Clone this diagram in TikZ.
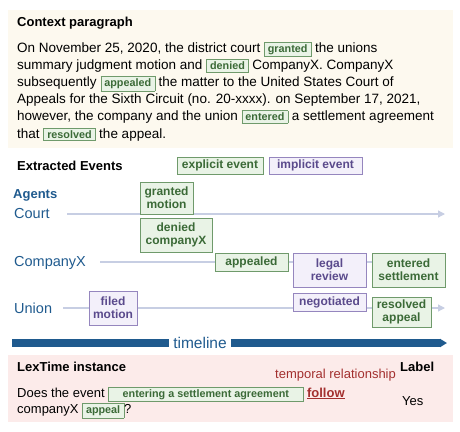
\documentclass[tikz,border=0pt]{standalone}
\usepackage{fontspec}
\setmainfont{Liberation Sans}
\usepackage{xcolor}
\usetikzlibrary{arrows.meta,positioning,calc}

\definecolor{ctxbg}{HTML}{FDF9EF}
\definecolor{lexbg}{HTML}{FCEBEA}
\definecolor{evgreenfill}{HTML}{E9F3E6}
\definecolor{evgreenline}{HTML}{6F9A6B}
\definecolor{evgreentext}{HTML}{3B6A37}
\definecolor{evpurplefill}{HTML}{F3F0FA}
\definecolor{evpurpleline}{HTML}{9586BE}
\definecolor{evpurpletext}{HTML}{5A4A8C}
\definecolor{agentblue}{HTML}{1F5A8E}
\definecolor{agentline}{HTML}{C7CEE3}
\definecolor{relred}{HTML}{A3302F}

% event marked inside running text
\newcommand{\parev}[1]{{\setlength{\fboxsep}{2.2pt}\fcolorbox{evgreenline}{evgreenfill}{\hspace{1.2pt}\textcolor{evgreentext}{\fontsize{10.8}{12}\selectfont\bfseries #1}\hspace{1.2pt}}}}
\newcommand{\parevwide}[2]{{\setlength{\fboxsep}{2.2pt}\fcolorbox{evgreenline}{evgreenfill}{\makebox[#1]{\textcolor{evgreentext}{\fontsize{10.8}{12}\selectfont\bfseries #2}}}}}

\begin{document}
\begin{tikzpicture}[
      x=1pt, y=-1pt,
      every node/.style={inner sep=0pt},
      head/.style={font=\fontsize{13}{15}\selectfont\bfseries, anchor=base west},
      agent/.style={font=\fontsize{14.5}{16}\selectfont, text=agentblue, anchor=base west},
      evbox/.style={draw, line width=0.8pt, align=center, inner sep=2pt,
                    font=\fontsize{12}{13}\selectfont\bfseries},
      expl/.style={evbox, fill=evgreenfill, draw=evgreenline, text=evgreentext},
      impl/.style={evbox, fill=evpurplefill, draw=evpurpleline, text=evpurpletext},
      aline/.style={draw=agentline, line width=1.3pt, -{Triangle[length=7pt,width=7pt]}},
      tbar/.style={draw=agentblue, line width=8pt}
  ]
    \useasboundingbox (0,0) rectangle (460,431);

    % context paragraph
    \fill[ctxbg] (8,10) rectangle (453,148);
    \node[head] (ctxhead) at (17,27) {Context paragraph};
    \node[anchor=base west, align=left, font=\fontsize{13.5}{17.2}\selectfont] (ctxtext) at (17,138)
      {On November 25, 2020, the district court \parev{granted} the unions\\
       summary judgment motion and \parev{denied} CompanyX. CompanyX\\
       subsequently \parev{appealed} the matter to the United States Court of\\
       Appeals for the Sixth Circuit (no. 20-xxxx). on September 17, 2021,\\
       however, the company and the union \parev{entered} a settlement agreement\\
       that \parev{resolved} the appeal.};

    % extracted events
    \node[head] (evhead) at (17,170.5) {Extracted Events};
    \node[expl, minimum width=86, minimum height=17] (legexpl) at (220,165.5) {explicit event};
    \node[impl, minimum width=93, minimum height=17] (legimpl) at (315.5,165.5) {implicit event};

    \node[head, text=agentblue] (agents) at (13,198.5) {Agents};
    \node[agent] (court) at (14,218.3) {Court};
    \node[agent] (companyx) at (14,266.5) {CompanyX};
    \node[agent] (union) at (14,313) {Union};

    \coordinate (courtst) at (67,214);   \coordinate (courtend) at (445,214);
    \coordinate (compst) at (100,262);   \coordinate (compend) at (445,262);
    \coordinate (unionst) at (63,308);   \coordinate (unionend) at (445,308);
    \draw[aline] (courtst) -- (courtend);
    \draw[aline] (compst) -- (compend);
    \draw[aline] (unionst) -- (unionend);

    \node[expl, minimum width=53, minimum height=32] (granted) at (166.5,198) {granted\\motion};
    \node[expl, minimum width=72, minimum height=34] (denied) at (176,235) {denied\\companyX};
    \node[expl, minimum width=73, minimum height=18] (appealed) at (251.5,262) {appealed};
    \node[impl, minimum width=73, minimum height=34] (review) at (329.5,270) {legal\\review};
    \node[expl, minimum width=73, minimum height=34] (entered) at (408.5,270) {entered\\settlement};
    \node[impl, minimum width=48, minimum height=34] (filed) at (113,308) {filed\\motion};
    \node[impl, minimum width=73, minimum height=18] (negotiated) at (329.5,302) {negotiated};
    \node[expl, minimum width=59, minimum height=30] (resolved) at (401.5,312) {resolved\\appeal};

    % timeline bar
    \node[font=\fontsize{15.5}{17}\selectfont, text=agentblue, inner xsep=4pt, anchor=base] (tl) at (200,348) {timeline};
    \coordinate (tlst) at (12,343);
    \coordinate (tlend) at (447,343);
    \draw[tbar] (tlst) -- (tl.west |- tlst);
    \draw[tbar, -{Triangle[length=7pt,width=8pt]}] (tl.east |- tlst) -- (tlend);

    % lextime instance
    \fill[lexbg] (8,355) rectangle (453,422);
    \node[head] (lexhead) at (17,371.7) {LexTime instance};
    \node[head] (labelhead) at (400,371.7) {Label};
    \node[anchor=base west, font=\fontsize{13}{15}\selectfont, text=relred] (relname) at (275,378.5) {temporal relationship};
    \node[anchor=base west, align=left, font=\fontsize{13}{16.5}\selectfont] (question) at (17,413.5)
      {Does the event \parevwide{190pt}{entering a settlement agreement} \textcolor{relred}{\bfseries\underline{follow}}\\
       companyX \parev{appeal}?};
    \node[anchor=base west, font=\fontsize{13}{15}\selectfont] (answer) at (402,405) {Yes};
  \end{tikzpicture}
\end{document}
